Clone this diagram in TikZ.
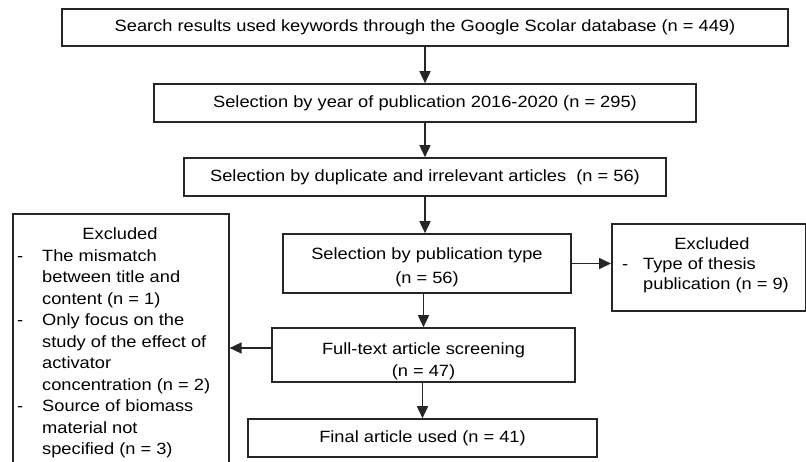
\documentclass[tikz,border=0pt]{standalone}
\usepackage{fontspec}
\setmainfont{Liberation Sans}[FakeStretch=1.12]
\usetikzlibrary{arrows.meta}
\begin{document}
\begin{tikzpicture}[x=1pt, y=-1pt,
		box/.style={draw=black!85, line width=1.6pt, inner sep=0pt, align=center, font=\fontsize{16.3}{21.5}\selectfont},
		exbox/.style={draw=black!85, line width=1.6pt, inner sep=0pt, anchor=north west},
		extext/.style={inner sep=0pt, font=\fontsize{16.3}{21.5}\selectfont},
		arr/.style={draw=black!85, line width=1.6pt, -{Triangle[length=12pt, width=11pt]}}]
	\useasboundingbox (0,0) rectangle (806,461);
	\clip (0,0) rectangle (806,461);
	
	\node[box, minimum width=726, minimum height=37] (search) at (425,27.5) {Search results used keywords through the Google Scolar database (n = 449)};
	\node[box, minimum width=542, minimum height=38] (year) at (425,103) {Selection by year of publication 2016-2020 (n = 295)};
	\node[box, minimum width=482, minimum height=38] (dup) at (425,177) {Selection by duplicate and irrelevant articles~ (n = 56)};
	\node[box, minimum width=288, minimum height=59] (pubtype) at (427,263.5) {\rule{0pt}{20pt}Selection by publication type\\[2.5pt](n = 56)};
	\node[box, minimum width=303, minimum height=54] (fulltext) at (423.5,355) {\rule{0pt}{24pt}Full-text article screening\\(n = 47)};
	\node[box, minimum width=349, minimum height=38] (final) at (422.5,438) {Final article used (n = 41)};
	
	\node[exbox, minimum width=216, minimum height=300] (exleft) at (12,213) {};
	\node[exbox, minimum width=194, minimum height=87] (exright) at (611,223) {};
	
	\node[extext, anchor=base] (exlefttitle) at (120,239) {Excluded};
	\node[extext, anchor=north west] (exleftlist) at (17,246) {\begin{tabular}{@{}p{25pt}@{}l@{}}
		- & The mismatch\\
		& between title and\\
		& content (n = 1)\\
		- & Only focus on the\\
		& study of the effect of\\
		& activator\\
		& concentration (n = 2)\\
		- & Source of biomass\\
		& material not\\
		& specified (n = 3)
	\end{tabular}};
	
	\node[extext, anchor=base] (exrighttitle) at (712,249) {Excluded};
	\node[extext, anchor=north west, font=\fontsize{16.3}{20}\selectfont] (exrightlist) at (622,255) {\begin{tabular}{@{}p{21pt}@{}l@{}}
		- & Type of thesis\\
		& publication (n = 9)
	\end{tabular}};
	
	\draw[arr] (search) -- (year);
	\draw[arr] (year) -- (dup);
	\draw[arr] (dup.south) -- (dup.south |- pubtype.north);
	\draw[arr] (fulltext.north |- pubtype.south) -- (fulltext.north);
	\draw[arr] (final.north |- fulltext.south) -- (final.north);
	\draw[arr] (pubtype.east) -- (pubtype.east -| exright.west);
	\draw[arr] ([yshift=7pt]fulltext.west) -- ([yshift=7pt]fulltext.west -| exleft.east);
\end{tikzpicture}
\end{document}
